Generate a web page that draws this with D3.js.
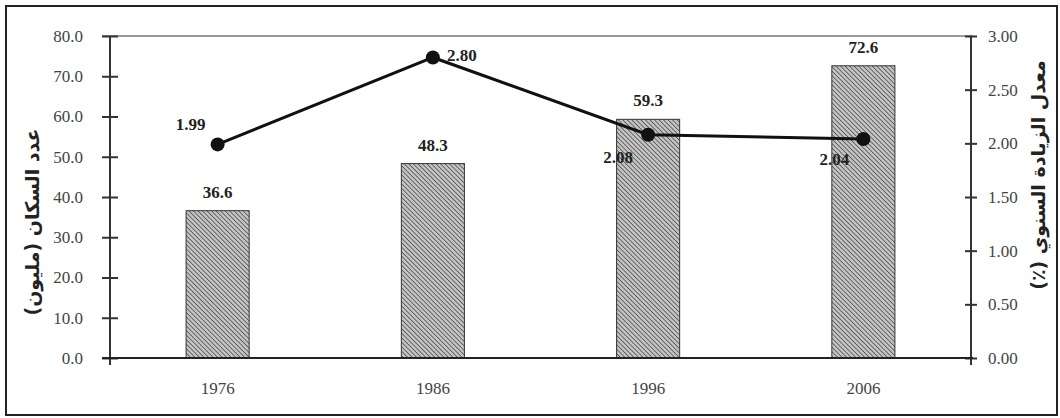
<!DOCTYPE html>
<html>
<head>
<meta charset="utf-8">
<script src="https://cdn.jsdelivr.net/npm/d3@7/dist/d3.min.js"></script>
<style>
  html, body { margin: 0; padding: 0; background: #ffffff; }
  svg { display: block; }
  .serif { font-family: "Liberation Serif", "DejaVu Serif", serif; }
</style>
</head>
<body>
<svg id="chart" width="1060" height="418"></svg>
<script>
// Census years, population (millions) and annual growth rate (%)
const years = ["1976", "1986", "1996", "2006"];
const population = [36.6, 48.3, 59.3, 72.6];
const growthRate = [1.99, 2.80, 2.08, 2.04];
const popTicks = [0, 10, 20, 30, 40, 50, 60, 70, 80];
const rateTicks = [0, 0.5, 1, 1.5, 2, 2.5, 3];
const leftTitle = "عدد السكان (مليون)";
const rightTitle = "معدل الزيادة السنوي (٪)";

// placement of each growth-rate label around its point [dx, dy, anchor]
const rateLabelPlacement = [
  [-27, -20, "middle"],
  [14, -2, "start"],
  [-30, 22, "middle"],
  [-29, 20, "middle"]
];

const svg = d3.select("#chart");
const plot = { left: 110, right: 971, top: 36, bottom: 358 };

const x = d3.scaleBand().domain(years)
  .range([plot.left, plot.right]).paddingInner(0.707).paddingOuter(0.3535);
const yPop = d3.scaleLinear().domain([0, 80]).range([plot.bottom, plot.top]);
const yRate = d3.scaleLinear().domain([0, 3]).range([plot.bottom, plot.top]);

// outer frame
svg.append("rect")
  .attr("x", 6).attr("y", 6).attr("width", 1051).attr("height", 409)
  .attr("fill", "#ffffff").attr("stroke", "#222").attr("stroke-width", 2);

// diagonal hatch used for the population bars
const defs = svg.append("defs");
const pat = defs.append("pattern")
  .attr("id", "hatch").attr("patternUnits", "userSpaceOnUse")
  .attr("width", 3.2).attr("height", 3.2)
  .attr("patternTransform", "rotate(-45)");
pat.append("rect").attr("width", 3.2).attr("height", 3.2).attr("fill", "#c4c4c4");
pat.append("line").attr("x1", 0).attr("y1", 0).attr("x2", 0).attr("y2", 3.2)
  .attr("stroke", "#4a4a4a").attr("stroke-width", 1.5);

// top border of the plot area
svg.append("line")
  .attr("x1", plot.left - 8).attr("x2", plot.right + 2)
  .attr("y1", yPop(80)).attr("y2", yPop(80))
  .attr("stroke", "#777").attr("stroke-width", 1.6);

// bars
svg.append("g").selectAll("rect")
  .data(population)
  .join("rect")
  .attr("x", (d, i) => x(years[i]))
  .attr("y", d => yPop(d))
  .attr("width", x.bandwidth())
  .attr("height", d => yPop(0) - yPop(d))
  .attr("fill", "url(#hatch)")
  .attr("stroke", "#333").attr("stroke-width", 1);

// bar value labels
svg.append("g").selectAll("text")
  .data(population)
  .join("text")
  .attr("class", "serif")
  .attr("x", (d, i) => x(years[i]) + x.bandwidth() / 2)
  .attr("y", d => yPop(d) - 13)
  .attr("text-anchor", "middle")
  .style("font-weight", "bold")
  .style("font-size", "17px")
  .attr("fill", "#222")
  .text(d => d.toFixed(1));

const tickFont = g => {
  g.attr("font-family", null).attr("font-size", null);
  g.selectAll("text")
    .attr("class", "serif")
    .style("font-size", "17px")
    .attr("fill", "#444");
};

// left axis
const gL = svg.append("g").attr("transform", `translate(${plot.left},0)`)
  .call(d3.axisLeft(yPop).tickValues(popTicks).tickFormat(d3.format(".1f"))
    .tickSize(0).tickPadding(27))
  .call(tickFont);
gL.select(".domain").attr("stroke", "#333").attr("stroke-width", 2)
  .attr("d", `M0,${plot.top}V${plot.bottom + 7}`);
gL.selectAll(".tick line").attr("x1", -8).attr("x2", 8)
  .attr("stroke", "#333").attr("stroke-width", 2);

// right axis
const gR = svg.append("g").attr("transform", `translate(${plot.right},0)`)
  .call(d3.axisRight(yRate).tickValues(rateTicks).tickFormat(d3.format(".2f"))
    .tickSize(0).tickPadding(17))
  .call(tickFont);
gR.select(".domain").attr("stroke", "#333").attr("stroke-width", 2)
  .attr("d", `M0,${plot.top}V${plot.bottom + 7}`);
gR.selectAll(".tick line").attr("x1", -6).attr("x2", 6)
  .attr("stroke", "#333").attr("stroke-width", 2);

// bottom axis
const gB = svg.append("g").attr("transform", `translate(0,${plot.bottom})`)
  .call(d3.axisBottom(x).tickSize(0).tickPadding(24))
  .call(tickFont);
gB.select(".domain").attr("stroke", "#222").attr("stroke-width", 2)
  .attr("d", `M${plot.left - 8},0H${plot.right + 2}`);

// growth-rate line
const line = d3.line()
  .x((d, i) => x(years[i]) + x.bandwidth() / 2)
  .y(d => yRate(d));
svg.append("path")
  .datum(growthRate)
  .attr("d", line)
  .attr("fill", "none")
  .attr("stroke", "#111")
  .attr("stroke-width", 3);

svg.append("g").selectAll("circle")
  .data(growthRate)
  .join("circle")
  .attr("cx", (d, i) => x(years[i]) + x.bandwidth() / 2)
  .attr("cy", d => yRate(d))
  .attr("r", 7)
  .attr("fill", "#111");

svg.append("g").selectAll("text")
  .data(growthRate)
  .join("text")
  .attr("class", "serif")
  .attr("x", (d, i) => x(years[i]) + x.bandwidth() / 2 + rateLabelPlacement[i][0])
  .attr("y", (d, i) => yRate(d) + rateLabelPlacement[i][1])
  .attr("dy", "0.35em")
  .attr("text-anchor", (d, i) => rateLabelPlacement[i][2])
  .style("font-weight", "bold")
  .style("font-size", "17px")
  .attr("fill", "#222")
  .text(d => d.toFixed(2));

// axis titles
svg.append("text")
  .attr("transform", "translate(32,222) rotate(-90)")
  .attr("text-anchor", "middle")
  .attr("dy", "0.35em")
  .attr("font-family", "DejaVu Sans, sans-serif")
  .attr("font-weight", "bold")
  .attr("font-size", 19)
  .attr("fill", "#222")
  .attr("direction", "rtl")
  .text(leftTitle);

svg.append("text")
  .attr("transform", "translate(1038,175) rotate(-90)")
  .attr("text-anchor", "middle")
  .attr("dy", "0.35em")
  .attr("font-family", "DejaVu Sans, sans-serif")
  .attr("font-weight", "bold")
  .attr("font-size", 19)
  .attr("fill", "#222")
  .attr("direction", "rtl")
  .text(rightTitle);
</script>
</body>
</html>
